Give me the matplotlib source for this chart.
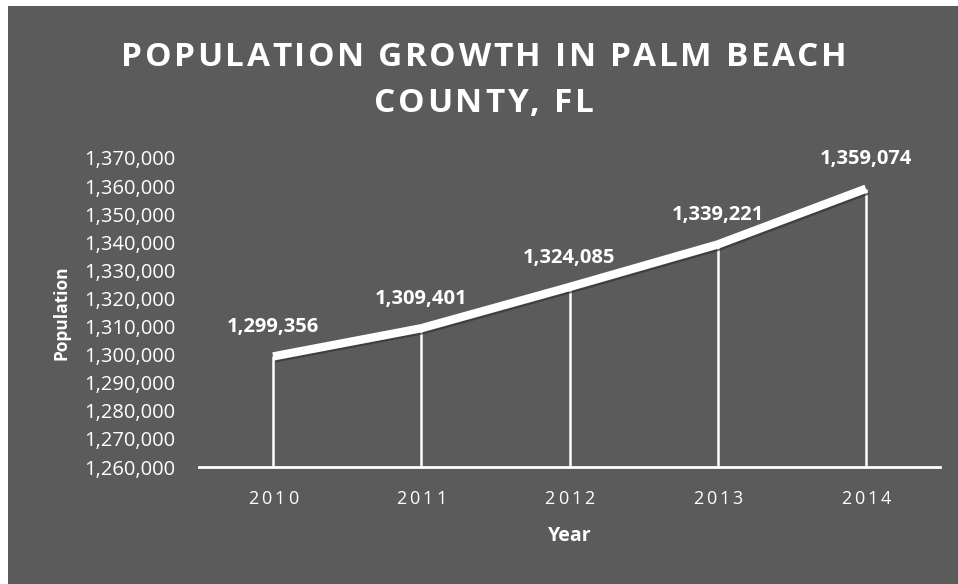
import matplotlib
matplotlib.use("Agg")
import matplotlib.pyplot as plt
import matplotlib.patheffects as pe
from matplotlib.patches import Rectangle
from matplotlib.ticker import FuncFormatter

plt.rcParams['font.family'] = ['Open Sans', 'DejaVu Sans']

years = ['2010', '2011', '2012', '2013', '2014']
population = [1299356, 1309401, 1324085, 1339221, 1359074]
y_ticks = list(range(1260000, 1370001, 10000))

bg = '#5b5b5b'
W, H = 958, 584

fig = plt.figure(figsize=(W / 100, H / 100), dpi=100)
fig.patch.set_facecolor('white')
# dark panel behind everything, thin white strip on left/top
fig.patches.append(Rectangle((8 / W, 0), 1, (H - 6) / H, transform=fig.transFigure,
                             facecolor=bg, edgecolor='none', zorder=-10))
renderer = fig.canvas.get_renderer()


def spaced_text(xc, yc, s, gap, trans, **kw):
    # draw a string one glyph at a time with extra tracking (gap in px)
    parts = [fig.text(0, 0, ch, ha='left', va='center', **kw) for ch in s]
    widths = [p.get_window_extent(renderer).width for p in parts]
    t1 = fig.text(0, 0, 'a a', **kw)
    t2 = fig.text(0, 0, 'aa', **kw)
    sp = t1.get_window_extent(renderer).width - t2.get_window_extent(renderer).width
    t1.remove()
    t2.remove()
    widths = [sp if ch == ' ' else w for ch, w in zip(s, widths)]
    total = sum(widths) + gap * (len(s) - 1)
    px, py = trans.transform((xc, yc))
    cur = px - total / 2
    for p, w in zip(parts, widths):
        p.set_position((cur / W, py / H))
        cur += w + gap


ax = fig.add_axes([199 / W, (H - 467) / H, (940 - 199) / W, (467 - 158) / H])
ax.set_facecolor('none')

x = list(range(len(years)))
ax.vlines(x, y_ticks[0], population, colors='white', lw=1.8, zorder=2)
ax.plot(x, population, color='white', lw=6, solid_capstyle='butt', zorder=3,
        path_effects=[pe.SimpleLineShadow(offset=(2, -3.5), shadow_color='#333333',
                                          alpha=0.7, linewidth=1.5),
                      pe.Normal()])

for xi, v in zip(x, population):
    ax.annotate(f'{v:,}', (xi, v), xytext=(0, 14), textcoords='offset points',
                ha='center', va='bottom', color='white', fontsize=14.5, fontweight='bold')

ax.set_xlim(-0.5, len(years) - 0.5)
ax.set_ylim(y_ticks[0], y_ticks[-1])
ax.set_xticks(x)
ax.set_xticklabels([])
ax.set_yticks(y_ticks)
ax.yaxis.set_major_formatter(FuncFormatter(lambda v, p: f'{int(v):,}'))
ax.tick_params(axis='both', length=0, colors='white', labelsize=14.5)
ax.tick_params(axis='y', pad=17)

for s in ['top', 'right', 'left']:
    ax.spines[s].set_visible(False)
ax.spines['bottom'].set_color('white')
ax.spines['bottom'].set_linewidth(2)
ax.spines['bottom'].set_zorder(4)

# year labels with wide tracking
for xi, yr in zip(x, years):
    xp = ax.transData.transform((xi, 0))[0]
    spaced_text(xp / W, 1 - 499 / H, yr, 3, fig.transFigure, color='white', fontsize=13)

fig.text(570 / W, 1 - 536 / H, 'Year', ha='center', va='center',
         color='white', fontsize=14, fontweight='bold')
fig.text(62 / W, 1 - 313 / H, 'Population', rotation=90, ha='center', va='center',
         color='white', fontsize=12.5, fontweight='bold')

spaced_text(484 / W, 1 - 57 / H, 'POPULATION GROWTH IN PALM BEACH', 2.6, fig.transFigure,
            color='white', fontsize=24, fontweight='bold')
spaced_text(484 / W, 1 - 104 / H, 'COUNTY, FL', 2.6, fig.transFigure,
            color='white', fontsize=24, fontweight='bold')

fig.savefig('out.png', dpi=100, facecolor=fig.get_facecolor())
